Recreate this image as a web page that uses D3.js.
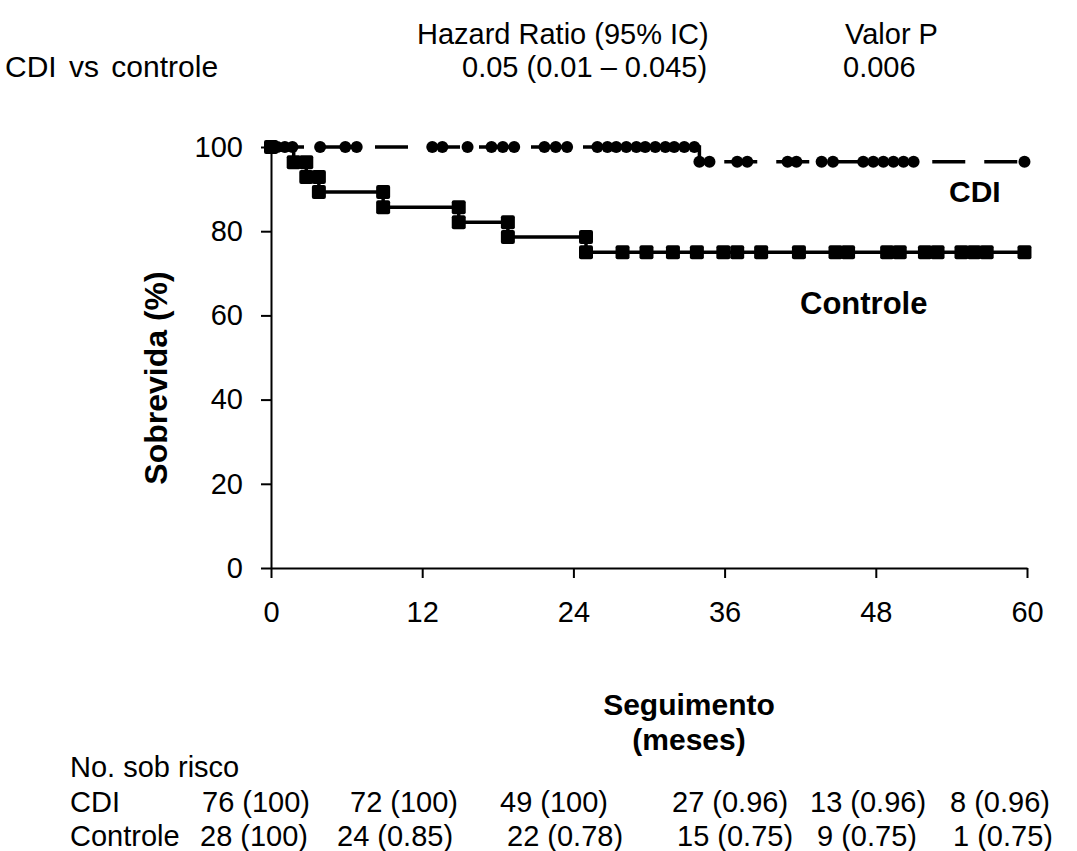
<!DOCTYPE html>
<html>
<head>
<meta charset="utf-8">
<script src="https://cdn.jsdelivr.net/npm/d3@7"></script>
<style>
  body { margin: 0; background: #fff; }
  svg text { font-family: "Liberation Sans", Arial, sans-serif; fill: #000; }
</style>
</head>
<body>
<div id="km_chart"></div>
<script>
// CDI curve (months, survival %)
const cdiTime = [0, 0.5, 1.1, 1.7, 3.9, 5.9, 6.8, 12.8, 13.6, 15.6, 17.5, 18.4, 19.3, 21.7, 22.6, 23.5,
  25.9, 26.7, 27.4, 28.2, 29.0, 29.7, 30.5, 31.3, 32.0, 32.8, 33.6,
  34.0, 34.8, 37.0, 37.8, 41.0, 41.7, 43.7, 44.6, 47.0, 47.8, 48.6, 49.4, 50.2, 51.0, 59.8];
const cdiSurv = [100, 100, 100, 100, 100, 100, 100, 100, 100, 100, 100, 100, 100, 100, 100, 100,
  100, 100, 100, 100, 100, 100, 100, 100, 100, 100, 100,
  96.5, 96.5, 96.5, 96.5, 96.5, 96.5, 96.5, 96.5, 96.5, 96.5, 96.5, 96.5, 96.5, 96.5, 96.5];

// Controle curve
const ctrlTime = [0, 1.8, 2.8, 2.8, 3.8, 3.8, 8.9, 8.9, 14.9, 14.9, 18.8, 18.8, 25.0, 25.0,
  27.9, 29.8, 31.9, 33.8, 35.9, 37.0, 38.9, 41.9, 44.8, 45.8, 48.9, 49.9, 51.9, 52.9, 54.8, 55.8, 56.8, 59.8];
const ctrlSurv = [100, 96.4, 96.4, 92.9, 92.9, 89.3, 89.3, 85.7, 85.7, 82.1, 82.1, 78.6, 78.6, 75,
  75, 75, 75, 75, 75, 75, 75, 75, 75, 75, 75, 75, 75, 75, 75, 75, 75, 75];

const xTicks = [0, 12, 24, 36, 48, 60];
const yTicks = [0, 20, 40, 60, 80, 100];

// numbers at risk table
const riskLabels = ["CDI", "Controle"];
const riskCdi = ["76 (100)", "72 (100)", "49 (100)", "27 (0.96)", "13 (0.96)", "8 (0.96)"];
const riskCtrl = ["28 (100)", "24 (0.85)", "22 (0.78)", "15 (0.75)", "9 (0.75)", "1 (0.75)"];

const W = 1077, H = 851;
const fs = 29;

const svg = d3.select("#km_chart").append("svg")
  .attr("width", W).attr("height", H);

const x = d3.scaleLinear().domain([0, 60]).range([271, 1027]);
const y = d3.scaleLinear().domain([0, 100]).range([568, 147]);

// axes
const xAxis = svg.append("g").attr("transform", "translate(0,568)")
  .call(d3.axisBottom(x).tickValues(xTicks).tickSize(10).tickSizeOuter(0).tickPadding(23));
const yAxis = svg.append("g").attr("transform", "translate(271,0)")
  .call(d3.axisLeft(y).tickValues(yTicks).tickSize(10).tickSizeOuter(0).tickPadding(18));

[xAxis, yAxis].forEach(g => {
  g.select(".domain").attr("stroke", "#000").attr("stroke-width", 2);
  g.selectAll(".tick line").attr("stroke", "#000").attr("stroke-width", 2);
  g.selectAll(".tick text").style("font-size", fs + "px")
    .style("font-family", "Liberation Sans, Arial, sans-serif");
});

// lines
const cdiPts = cdiTime.map((t, i) => [t, cdiSurv[i]]);
const ctrlPts = ctrlTime.map((t, i) => [t, ctrlSurv[i]]);

const line = d3.line()
  .x(d => x(d[0]))
  .y(d => y(d[1]))
  .curve(d3.curveStepAfter);

svg.append("path").datum(ctrlPts)
  .attr("fill", "none").attr("stroke", "#000").attr("stroke-width", 3.5)
  .attr("d", line);

svg.append("path").datum(cdiPts)
  .attr("fill", "none").attr("stroke", "#000").attr("stroke-width", 3.5)
  .attr("stroke-dasharray", "33,19")
  .attr("d", line);

// markers
const sq = 14;
svg.append("g").selectAll("rect").data(ctrlPts).join("rect")
  .attr("x", d => x(d[0]) - sq / 2)
  .attr("y", d => y(d[1]) - sq / 2)
  .attr("width", sq).attr("height", sq)
  .attr("rx", 2).attr("fill", "#000");

svg.append("g").selectAll("circle").data(cdiPts).join("circle")
  .attr("cx", d => x(d[0]))
  .attr("cy", d => y(d[1]))
  .attr("r", 6).attr("fill", "#000");

// curve labels
svg.append("text").attr("x", 949).attr("y", 202)
  .style("font-size", "30px").style("font-weight", "bold").text("CDI");
svg.append("text").attr("x", 800).attr("y", 314)
  .style("font-size", "31px").style("font-weight", "bold").text("Controle");

// axis titles
svg.append("text")
  .attr("transform", "translate(167,378) rotate(-90)")
  .attr("text-anchor", "middle")
  .style("font-size", "32px").style("font-weight", "bold")
  .text("Sobrevida (%)");
svg.append("text").attr("x", 689).attr("y", 715).attr("text-anchor", "middle")
  .style("font-size", "30px").style("font-weight", "bold").text("Seguimento");
svg.append("text").attr("x", 689).attr("y", 750).attr("text-anchor", "middle")
  .style("font-size", "30px").style("font-weight", "bold").text("(meses)");

// header
const header = [
  {t: "Hazard Ratio (95% IC)", x: 417, y: 44, ws: 0},
  {t: "Valor P", x: 845, y: 44, ws: 0},
  {t: "CDI vs controle", x: 5, y: 77, ws: 4},
  {t: "0.05 (0.01 \u2013 0.045)", x: 462, y: 77, ws: 0},
  {t: "0.006", x: 843, y: 77, ws: 0}
];
svg.append("g").selectAll("text").data(header).join("text")
  .attr("x", d => d.x).attr("y", d => d.y)
  .style("word-spacing", d => d.ws + "px")
  .style("font-size", d => (d.ws ? 30 : fs) + "px").text(d => d.t);

// number at risk
const riskG = svg.append("g");
riskG.append("text").attr("x", 70).attr("y", 777)
  .style("font-size", fs + "px").text("No. sob risco");
const rowY = [812, 846];
const colX = [[202, 350, 500, 672, 810, 950], [200, 337, 507, 677, 817, 953]];
[riskCdi, riskCtrl].forEach((row, r) => {
  riskG.append("text").attr("x", 70).attr("y", rowY[r])
    .style("font-size", fs + "px").text(riskLabels[r]);
  row.forEach((v, c) => {
    riskG.append("text").attr("x", colX[r][c]).attr("y", rowY[r])
      .style("font-size", fs + "px").text(v);
  });
});
</script>
</body>
</html>
